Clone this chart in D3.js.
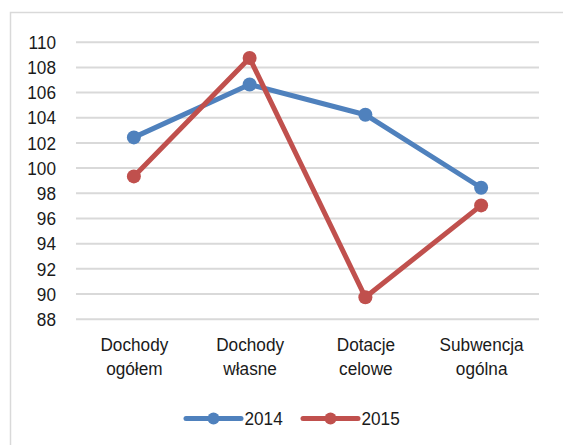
<!DOCTYPE html>
<html>
<head>
<meta charset="utf-8">
<script src="https://cdn.jsdelivr.net/npm/d3@7"></script>
<style>
  html, body { margin: 0; padding: 0; background: #fff; }
  svg { display: block; }
  text { font-family: "Liberation Sans", Arial, sans-serif; fill: #1a1a1a; }
</style>
</head>
<body>
<div id="chart"></div>
<script>
/* ---------- data ---------- */
const categories = ['Dochody ogółem', 'Dochody własne', 'Dotacje celowe', 'Subwencja ogólna'];
const seriesNames = ['2014', '2015'];
const values2014 = [102.4, 106.6, 104.2, 98.4];
const values2015 = [99.3, 108.7, 89.7, 97.0];
const yTicks = [88, 90, 92, 94, 96, 98, 100, 102, 104, 106, 108, 110];
const seriesColors = ['#4f81bd', '#c0504d'];

(function () {
  const W = 563, H = 445;
  const plot = { left: 76, right: 539, top: 41.7, bottom: 318.7 };
  const fontSize = 18.7;
  const squeeze = 'scale(0.92,1)';

  const svg = d3.select('#chart').append('svg')
    .attr('width', W)
    .attr('height', H)
    .attr('viewBox', `0 0 ${W} ${H}`);

  // outer frame (runs off the right / bottom edge in the reference)
  svg.append('rect')
    .attr('x', 10.5).attr('y', 12.5)
    .attr('width', 700).attr('height', 600)
    .attr('fill', 'none')
    .attr('stroke', '#d9d9d9')
    .attr('stroke-width', 1.5);

  const x = d3.scalePoint()
    .domain(categories)
    .range([plot.left, plot.right])
    .padding(0.5);

  const y = d3.scaleLinear()
    .domain([yTicks[0], yTicks[yTicks.length - 1]])
    .range([plot.bottom, plot.top]);

  // y axis + gridlines
  const yAxis = svg.append('g')
    .attr('transform', `translate(${plot.left},0)`)
    .call(d3.axisLeft(y)
      .tickValues(yTicks)
      .tickSize(-(plot.right - plot.left))
      .tickPadding(0)
      .tickFormat(d3.format('d')));
  yAxis.select('.domain').remove();
  yAxis.selectAll('.tick line')
    .attr('stroke', '#d9d9d9')
    .attr('stroke-width', 2);
  yAxis.selectAll('.tick text')
    .attr('x', 0)
    .attr('dy', '0.36em')
    .attr('transform', `translate(-20,0) ${squeeze}`)
    .style('font-size', fontSize + 'px')
    .style('fill', '#1a1a1a');

  // x axis labels (two lines)
  const xAxis = svg.append('g')
    .attr('transform', `translate(0,${plot.bottom})`)
    .call(d3.axisBottom(x).tickSize(0));
  xAxis.select('.domain').remove();
  xAxis.selectAll('.tick text').each(function (d) {
    const t = d3.select(this);
    t.text(null)
      .attr('y', 0)
      .attr('dy', null)
      .attr('transform', squeeze)
      .style('font-size', fontSize + 'px')
      .style('fill', '#1a1a1a');
    d.split(' ').forEach((w, i) => {
      t.append('tspan').attr('x', 0).attr('y', 32 + i * 24).text(w);
    });
  });

  // series
  const series = [values2014, values2015].map((vals, i) => ({
    name: seriesNames[i],
    color: seriesColors[i],
    points: categories.map((c, j) => ({ c, v: vals[j] }))
  }));

  const line = d3.line().x(d => x(d.c)).y(d => y(d.v));

  series.forEach(s => {
    const g = svg.append('g');
    g.append('path')
      .datum(s.points)
      .attr('d', line)
      .attr('fill', 'none')
      .attr('stroke', s.color)
      .attr('stroke-width', 5)
      .attr('stroke-linejoin', 'round')
      .attr('stroke-linecap', 'round');
    g.selectAll('circle')
      .data(s.points)
      .join('circle')
      .attr('cx', d => x(d.c))
      .attr('cy', d => y(d.v))
      .attr('r', 7)
      .attr('fill', s.color);
  });

  // legend
  const legendY = 418.5;
  const legendItems = [
    { x0: 186, x1: 241, tx: 244.5 },
    { x0: 303, x1: 358, tx: 361.5 }
  ];
  const legend = svg.append('g');
  series.forEach((s, i) => {
    const L = legendItems[i];
    legend.append('line')
      .attr('x1', L.x0).attr('x2', L.x1)
      .attr('y1', legendY).attr('y2', legendY)
      .attr('stroke', s.color)
      .attr('stroke-width', 5)
      .attr('stroke-linecap', 'round');
    legend.append('circle')
      .attr('cx', (L.x0 + L.x1) / 2)
      .attr('cy', legendY)
      .attr('r', 6)
      .attr('fill', s.color);
    legend.append('text')
      .attr('transform', `translate(${L.tx},${legendY}) ${squeeze}`)
      .attr('dy', '0.36em')
      .style('font-size', fontSize + 'px')
      .text(s.name);
  });
})();
</script>
</body>
</html>
